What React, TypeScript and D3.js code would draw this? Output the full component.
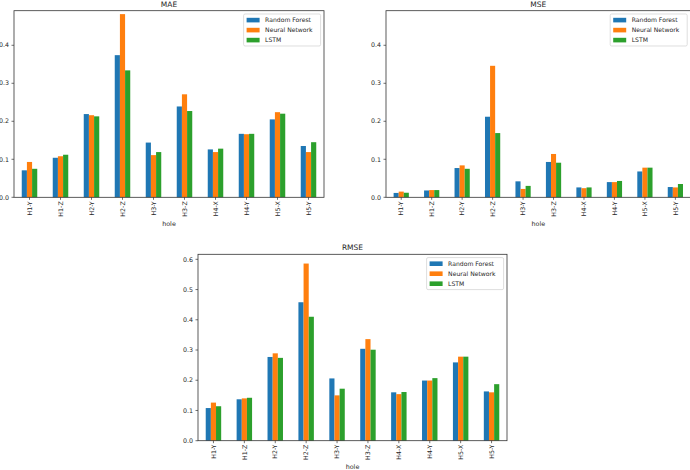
import React from "react";
import * as d3 from "d3";

const holes = ["H1-Y", "H1-Z", "H2-Y", "H2-Z", "H3-Y", "H3-Z", "H4-X", "H4-Y", "H5-X", "H5-Y"];
const models = ["Random Forest", "Neural Network", "LSTM"];
const colors = ["#1f77b4", "#ff7f0e", "#2ca02c"];

const maeRF = [0.071, 0.104, 0.219, 0.374, 0.144, 0.239, 0.126, 0.167, 0.205, 0.135];
const maeNN = [0.093, 0.108, 0.216, 0.482, 0.111, 0.271, 0.119, 0.166, 0.224, 0.119];
const maeLSTM = [0.075, 0.112, 0.213, 0.334, 0.119, 0.227, 0.128, 0.167, 0.220, 0.145];

const mseRF = [0.0115, 0.018, 0.077, 0.212, 0.042, 0.093, 0.026, 0.040, 0.068, 0.027];
const mseNN = [0.015, 0.019, 0.084, 0.346, 0.022, 0.114, 0.024, 0.040, 0.078, 0.026];
const mseLSTM = [0.012, 0.019, 0.075, 0.169, 0.030, 0.091, 0.026, 0.043, 0.078, 0.035];

const rmseRF = [0.108, 0.137, 0.277, 0.458, 0.206, 0.304, 0.160, 0.199, 0.259, 0.163];
const rmseNN = [0.126, 0.140, 0.289, 0.586, 0.150, 0.336, 0.154, 0.199, 0.278, 0.160];
const rmseLSTM = [0.114, 0.142, 0.274, 0.410, 0.172, 0.301, 0.161, 0.207, 0.278, 0.187];

const topTicks = [0, 0.1, 0.2, 0.3, 0.4];
const rmseTicks = [0, 0.1, 0.2, 0.3, 0.4, 0.5, 0.6];

const font = "DejaVu Sans, sans-serif";
const ink = "#262626";

interface PanelProps {
    title: string;
    series: number[][];
    left: number;
    right: number;
    top: number;
    bottom: number;
    yMax: number;
    ticks: number[];
}

const Panel: React.FC<PanelProps> = ({title, series, left, right, top, bottom, yMax, ticks}) => {
    const x = d3.scaleBand<string>().domain(holes).range([left, right]).paddingInner(0.5).paddingOuter(0.25);
    const xm = d3.scaleBand<number>().domain(d3.range(models.length)).range([0, x.bandwidth()]);
    const y = d3.scaleLinear().domain([0, yMax]).range([bottom, top]);
    const cx = (h: string) => (x(h) ?? 0) + x.bandwidth() / 2;

    return <g>
        {series.map((vals, m) => vals.map((v, i) => (
            <rect key={`${m}-${i}`} x={(x(holes[i]) ?? 0) + (xm(m) ?? 0)} y={y(v)}
                  width={xm.bandwidth()} height={y(0) - y(v)} fill={colors[m]}/>
        )))}
        <rect x={left} y={top} width={right - left} height={bottom - top} fill="none" stroke="#333" strokeWidth={0.8}/>
        {ticks.map(t => (
            <g key={t}>
                <line x1={left - 2.5} x2={left} y1={y(t)} y2={y(t)} stroke="#333" strokeWidth={0.7}/>
                <text x={left - 5} y={y(t)} dy="0.35em" textAnchor="end" fontSize={6.3} fill={ink}>{t.toFixed(1)}</text>
            </g>
        ))}
        {holes.map(h => (
            <g key={h}>
                <line x1={cx(h)} x2={cx(h)} y1={bottom} y2={bottom + 2.5} stroke="#333" strokeWidth={0.7}/>
                <text transform={`translate(${cx(h)},${bottom + 4}) rotate(-90)`} dy="0.35em" textAnchor="end"
                      fontSize={6.3} fill={ink}>{h}</text>
            </g>
        ))}
        <text x={(left + right) / 2} y={bottom + 28.5} textAnchor="middle" fontSize={6.4} fill={ink}>hole</text>
        <text x={(left + right) / 2} y={top - 4} textAnchor="middle" fontSize={7.5} fill={ink}>{title}</text>
        <g transform={`translate(${right - 3.4 - 77},${top + 3.3})`}>
            <rect width={77} height={32} rx={1.5} fill="white" fillOpacity={0.8} stroke="#d0d0d0" strokeWidth={0.7}/>
            {models.map((name, m) => (
                <g key={name} transform={`translate(0,${6 + m * 10})`}>
                    <rect x={3} y={-2.2} width={13} height={4.6} fill={colors[m]}/>
                    <text x={21.5} dy="0.35em" fontSize={6.1} fill={ink}>{name}</text>
                </g>
            ))}
        </g>
    </g>;
};

const App: React.FC = () => {
    return <svg width={690} height={470} fontFamily={font}
                style={{position: "absolute", left: 0, top: 0, background: "white"}}>
        <Panel title="MAE" series={[maeRF, maeNN, maeLSTM]} left={14} right={324} top={10.7} bottom={197.3}
               yMax={0.491} ticks={topTicks}/>
        <Panel title="MSE" series={[mseRF, mseNN, mseLSTM]} left={386} right={690.6} top={10.7} bottom={197.3}
               yMax={0.491} ticks={topTicks}/>
        <Panel title="RMSE" series={[rmseRF, rmseNN, rmseLSTM]} left={198} right={507} top={254.3} bottom={440.7}
               yMax={0.6166} ticks={rmseTicks}/>
    </svg>;
};

export default App;
